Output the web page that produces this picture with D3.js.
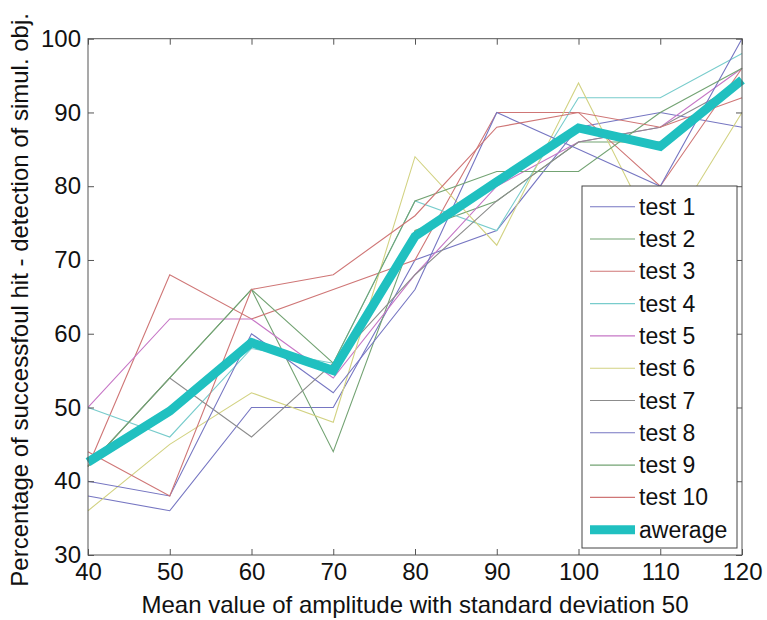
<!DOCTYPE html>
<html>
<head>
<meta charset="utf-8">
<title>Successful hit detection</title>
<script src="https://cdn.jsdelivr.net/npm/d3@7"></script>
<style>
  body { margin: 0; background: #fff; }
  svg text { font-family: "Liberation Sans", Arial, sans-serif; fill: #111; }
  .axis path { display: none; }
  .axis line { stroke: #555; }
  .series { fill: none; stroke-linejoin: miter; }
</style>
</head>
<body>
<svg width="767" height="620"></svg>
<script>
// x positions (mean amplitude)
var amplitudes = [40, 50, 60, 70, 80, 90, 100, 110, 120];

// one array per test run
var test1  = [38, 36, 50, 50, 70, 74, 88, 90, 88];
var test2  = [42, 54, 66, 44, 74, 78, 86, 86, 94];
var test3  = [42, 68, 62, 66, 70, 90, 90, 80, 96];
var test4  = [50, 46, 58, 56, 78, 74, 92, 92, 98];
var test5  = [50, 62, 62, 54, 68, 80, 86, 88, 96];
var test6  = [36, 45, 52, 48, 84, 72, 94, 72, 90];
var test7  = [42, 54, 46, 56, 68, 78, 86, 88, 94];
var test8  = [40, 38, 60, 52, 66, 90, 85, 80, 100];
var test9  = [42, 54, 66, 56, 78, 82, 82, 90, 96];
var test10 = [44, 38, 66, 68, 76, 88, 90, 88, 92];
var average = [42.6, 49.5, 58.8, 55, 73.2, 80.6, 87.9, 85.4, 94.4];

var xTicks = [40, 50, 60, 70, 80, 90, 100, 110, 120];
var yTicks = [30, 40, 50, 60, 70, 80, 90, 100];

var testNames = ["test 1", "test 2", "test 3", "test 4", "test 5",
                 "test 6", "test 7", "test 8", "test 9", "test 10"];
var testColors = ["#7676c2", "#73a373", "#cf7676", "#78cccc", "#c676c6",
                  "#d2d282", "#8c8c8c", "#7676c2", "#73a373", "#cf7676"];
var avgColor = "#20c0c0";

var tests = [test1, test2, test3, test4, test5, test6, test7, test8, test9, test10];

var svg = d3.select("svg");
var plotLeft = 88, plotRight = 742, plotTop = 38.7, plotBottom = 555;

var x = d3.scaleLinear().domain([40, 120]).range([plotLeft, plotRight]);
var y = d3.scaleLinear().domain([30, 100]).range([plotBottom, plotTop]);

var line = d3.line()
    .x(function(d, i) { return x(amplitudes[i]); })
    .y(function(d) { return y(d); });

// series
svg.append("g").selectAll("path")
    .data(tests)
    .enter().append("path")
      .attr("class", "series")
      .attr("d", line)
      .attr("stroke", function(d, i) { return testColors[i]; })
      .attr("stroke-width", 1.1);

svg.append("path")
    .datum(average)
    .attr("class", "series")
    .attr("d", line)
    .attr("stroke", avgColor)
    .attr("stroke-width", 9);

// axes, ticks pointing inward on all four sides
svg.append("g")
    .attr("class", "axis")
    .attr("transform", "translate(0," + plotBottom + ")")
    .call(d3.axisBottom(x).tickValues(xTicks).tickSize(-6).tickPadding(8))
    .selectAll("text").style("font-size", "24px");

svg.append("g")
    .attr("class", "axis")
    .attr("transform", "translate(0," + plotTop + ")")
    .call(d3.axisTop(x).tickValues(xTicks).tickSize(-6).tickFormat(""));

svg.append("g")
    .attr("class", "axis")
    .attr("transform", "translate(" + plotLeft + ",0)")
    .call(d3.axisLeft(y).tickValues(yTicks).tickSize(-6).tickPadding(7))
    .selectAll("text").style("font-size", "24px");

svg.append("g")
    .attr("class", "axis")
    .attr("transform", "translate(" + plotRight + ",0)")
    .call(d3.axisRight(y).tickValues(yTicks).tickSize(-6).tickFormat(""));

svg.append("rect")
    .attr("x", plotLeft).attr("y", plotTop)
    .attr("width", plotRight - plotLeft).attr("height", plotBottom - plotTop)
    .attr("fill", "none")
    .attr("stroke", "#555");

// axis titles
svg.append("text")
    .attr("x", (plotLeft + plotRight) / 2)
    .attr("y", 613)
    .attr("text-anchor", "middle")
    .style("font-size", "24px")
    .text("Mean value of amplitude with standard deviation 50");

svg.append("text")
    .attr("transform", "translate(28," + ((plotTop + plotBottom) / 2 + 3) + ") rotate(-90)")
    .attr("text-anchor", "middle")
    .style("font-size", "24px")
    .text("Percentage of successfoul hit - detection of simul. obj.");

// legend
var legendNames = testNames.concat(["awerage"]);
var legendColors = testColors.concat([avgColor]);
var legend = svg.append("g");
legend.append("rect")
    .attr("x", 582).attr("y", 186)
    .attr("width", 155).attr("height", 362)
    .attr("fill", "#fff")
    .attr("stroke", "#444");

var item = legend.selectAll("g.item")
    .data(legendNames)
    .enter().append("g")
      .attr("class", "item")
      .attr("transform", function(d, i) { return "translate(0," + (206.7 + i * 32.3) + ")"; });

item.append("line")
    .attr("x1", 590).attr("x2", 635)
    .attr("stroke", function(d, i) { return legendColors[i]; })
    .attr("stroke-width", function(d, i) { return i === 10 ? 9 : 1.1; });

item.append("text")
    .attr("x", 639)
    .attr("dy", "0.35em")
    .style("font-size", "23px")
    .text(function(d) { return d; });
</script>
</body>
</html>
